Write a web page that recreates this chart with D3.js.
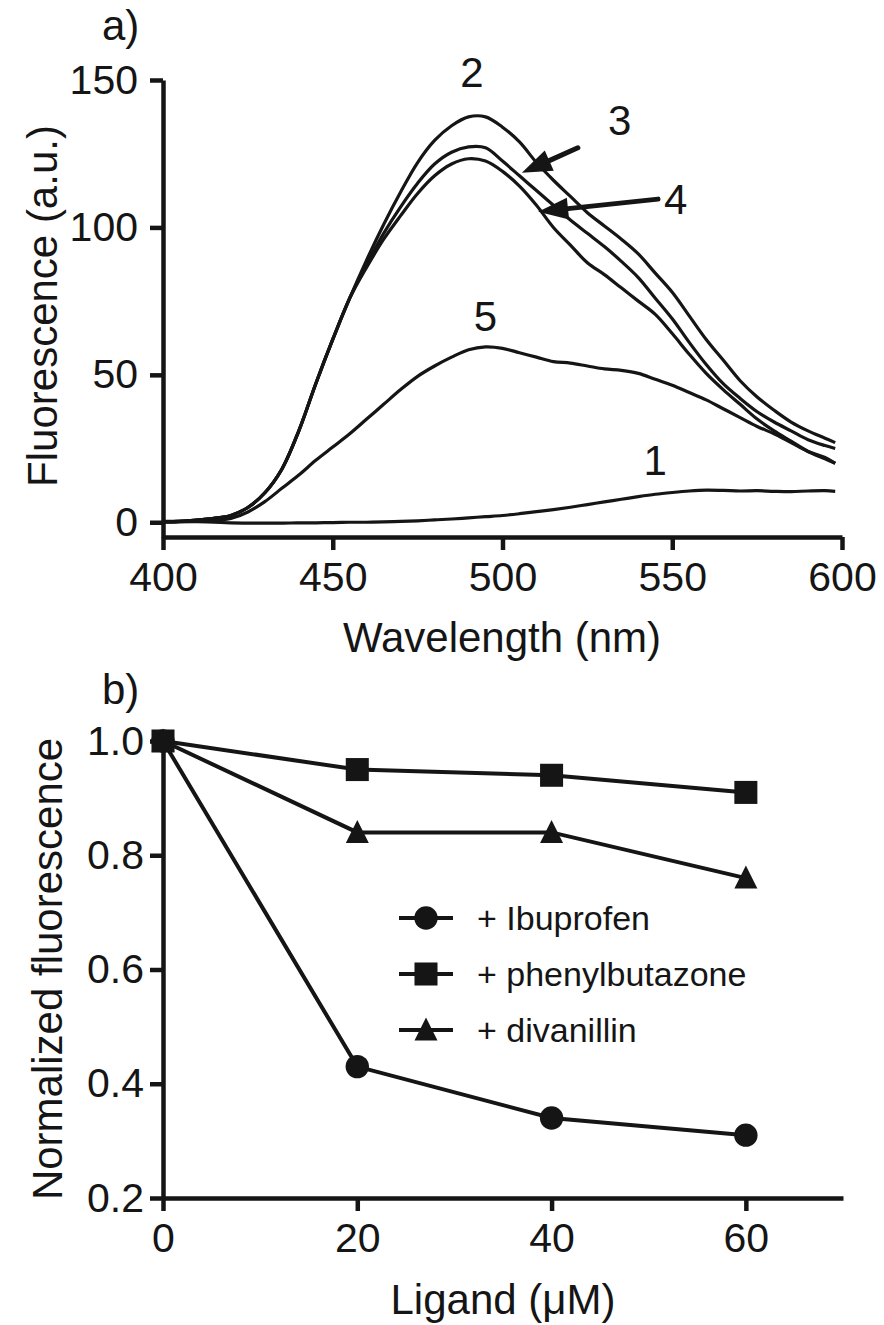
<!DOCTYPE html>
<html>
<head>
<meta charset="utf-8">
<script src="https://cdn.jsdelivr.net/npm/d3@7"></script>
<style>
  body { margin: 0; background: #fff; }
  svg { display: block; font-family: "Liberation Sans", Arial, sans-serif; }
  .axis path, .axis line { stroke: #151515; stroke-width: 4.5; }
  .axis text { font-size: 41px; fill: #151515; }
  .title { font-size: 42px; fill: #151515; }
</style>
</head>
<body>
<div id="chart-area"></div>
<script>
// Panel a) - emission spectra
const wavelengths = [400, 405, 410, 415, 420, 425, 430, 435, 440, 445, 450, 455, 460,
  465, 470, 475, 480, 485, 490, 495, 500, 505, 510, 515, 520, 525,
  530, 535, 540, 545, 550, 555, 560, 565, 570, 575, 580, 585, 590, 595, 598];
const spectrum1 = [0.3, 0.3, 0.2, 0, -0.2, -0.3, -0.3, -0.3, -0.2, -0.2, -0.1, 0, 0,
  0.1, 0.3, 0.5, 0.8, 1.1, 1.5, 1.9, 2.3, 2.9, 3.6, 4.3, 5.1, 6.0,
  6.9, 7.8, 8.7, 9.5, 10.1, 10.6, 10.9, 10.8, 10.6, 10.7, 10.5, 10.4, 10.6, 10.7, 10.5];
const spectrum2 = [0.2, 0.3, 0.7, 1.3, 2.3, 5, 10, 18, 31, 47, 62, 76, 89,
  101, 112, 122, 129.5, 134.5, 137.5, 137.5, 134, 129, 122, 116, 110.5, 105,
  100.5, 96, 91, 84.5, 78, 70, 62, 55, 48, 42.5, 38, 34, 31, 28.5, 27];
const spectrum3 = [0.2, 0.3, 0.7, 1.3, 2.3, 5, 10, 18, 31, 47, 62, 76, 87.5,
  98, 107, 115, 121.5, 125.5, 127.3, 127, 122.5, 117.5, 112.5, 107.5, 102.5, 98,
  93.5, 88.5, 83, 76, 69, 61, 53.5, 47, 42, 37.5, 34, 31, 28, 26, 25];
const spectrum4 = [0.2, 0.3, 0.7, 1.3, 2.3, 5, 10, 18, 31, 47, 62, 76, 86.5,
  96, 104, 111.5, 117.5, 121.5, 123.3, 122.5, 119, 114, 107.5, 100, 94, 88,
  84, 79.5, 75, 70.5, 64, 57, 50.5, 45, 40, 35, 31, 27.5, 24, 21.5, 20];
const spectrum5 = [0, 0.1, 0.3, 0.6, 1.3, 3.5, 7, 11.5, 16, 21, 25.5, 30, 35,
  40, 45, 49.5, 53, 56, 58.5, 59.5, 59, 57.5, 56, 54.5, 54, 53,
  52, 51.5, 50.5, 48.5, 46.5, 44, 41.5, 38.5, 35.5, 32.5, 30, 27, 24, 22, 20];
const spectra = [spectrum1, spectrum2, spectrum3, spectrum4, spectrum5];

const xTicksA = [400, 450, 500, 550, 600];
const yTicksA = [0, 50, 100, 150];

// curve labels [text, wavelength, value at baseline]
const curveLabels = [
  ['1', 545, 16],
  ['2', 491, 147.5],
  ['3', 534.5, 131.5],
  ['4', 551, 104.5],
  ['5', 495, 65],
];
// arrows [from wl, from value, to wl, to value]
const arrows = [
  [522.2, 127, 505.7, 118.5],
  [545.8, 109.6, 510.5, 105.3],
];

// Panel b) - quenching by ligands
const ligandConc = [0, 20, 40, 60];
const ibuprofen = [1.0, 0.43, 0.34, 0.31];
const phenylbutazone = [1.0, 0.95, 0.94, 0.91];
const divanillin = [1.0, 0.84, 0.84, 0.76];
const legendLabels = ['+ Ibuprofen', '+ phenylbutazone', '+ divanillin'];

const xTicksB = [0, 20, 40, 60];
const yTicksB = [0.2, 0.4, 0.6, 0.8, 1.0];

const width = 884;
const height = 1325;

const svg = d3.select('#chart-area')
  .append('svg')
  .attr('width', width)
  .attr('height', height);

// ---------- panel a ----------
const xA = d3.scaleLinear().domain([400, 600]).range([163, 842]);
const yA = d3.scaleLinear().domain([-5, 150]).range([537, 80]);

svg.append('g')
  .attr('class', 'axis')
  .attr('transform', 'translate(0, 537)')
  .call(d3.axisBottom(xA).tickValues(xTicksA).tickSize(13).tickSizeOuter(0).tickPadding(12));

svg.append('g')
  .attr('class', 'axis')
  .attr('transform', 'translate(163, 0)')
  .call(d3.axisLeft(yA).tickValues(yTicksA).tickSize(13).tickSizeOuter(0).tickPadding(12));

const spectrumLine = d3.line()
  .x((d, i) => xA(wavelengths[i]))
  .y((d) => yA(d))
  .curve(d3.curveCatmullRom);

svg.append('g')
  .selectAll('path')
  .data(spectra)
  .enter()
  .append('path')
  .attr('d', spectrumLine)
  .attr('fill', 'none')
  .attr('stroke', '#151515')
  .attr('stroke-width', 3.2)
  .attr('stroke-linejoin', 'round');

svg.append('g')
  .selectAll('text')
  .data(curveLabels)
  .enter()
  .append('text')
  .attr('class', 'title')
  .attr('font-size', 40)
  .attr('text-anchor', 'middle')
  .attr('x', (d) => xA(d[1]))
  .attr('y', (d) => yA(d[2]))
  .text((d) => d[0]);

// arrows
arrows.forEach(([w0, v0, w1, v1]) => {
  const x0 = xA(w0), y0 = yA(v0), x1 = xA(w1), y1 = yA(v1);
  const ang = Math.atan2(y1 - y0, x1 - x0);
  const headLen = 30, headHalf = 11;
  const bx = x1 - headLen * Math.cos(ang);
  const by = y1 - headLen * Math.sin(ang);
  svg.append('line')
    .attr('x1', x0).attr('y1', y0)
    .attr('x2', bx).attr('y2', by)
    .attr('stroke', '#151515')
    .attr('stroke-width', 5)
    .attr('stroke-linecap', 'round');
  svg.append('path')
    .attr('d', `M${x1},${y1}L${bx - headHalf * Math.sin(ang)},${by + headHalf * Math.cos(ang)}` +
      `L${bx + headHalf * Math.sin(ang)},${by - headHalf * Math.cos(ang)}Z`)
    .attr('fill', '#151515');
});

svg.append('text')
  .attr('class', 'title')
  .attr('x', 102)
  .attr('y', 40)
  .text('a)');

svg.append('text')
  .attr('class', 'title')
  .attr('text-anchor', 'middle')
  .attr('x', 502)
  .attr('y', 652)
  .text('Wavelength (nm)');

svg.append('text')
  .attr('class', 'title')
  .attr('text-anchor', 'middle')
  .attr('transform', 'translate(57, 306) rotate(-90)')
  .text('Fluorescence (a.u.)');

// ---------- panel b ----------
const xB = d3.scaleLinear().domain([0, 70]).range([163, 843]);
const yB = d3.scaleLinear().domain([0.2, 1.0]).range([1198, 741]);

svg.append('g')
  .attr('class', 'axis')
  .attr('transform', 'translate(0, 1198)')
  .call(d3.axisBottom(xB).tickValues(xTicksB).tickSize(13).tickSizeOuter(0).tickPadding(12));

svg.append('g')
  .attr('class', 'axis')
  .attr('transform', 'translate(163, 0)')
  .call(d3.axisLeft(yB).tickValues(yTicksB).tickFormat(d3.format('.1f'))
    .tickSize(13).tickSizeOuter(0).tickPadding(6));

const triangle = 'M0,-12.5L11.5,10.5L-11.5,10.5Z';
const series = [
  { values: ibuprofen, symbol: d3.symbol(d3.symbolCircle, 430)() },
  { values: phenylbutazone, symbol: d3.symbol(d3.symbolSquare, 530)() },
  { values: divanillin, symbol: triangle },
];

const pointLine = d3.line()
  .x((d, i) => xB(ligandConc[i]))
  .y((d) => yB(d));

const gSeries = svg.append('g')
  .selectAll('g')
  .data(series)
  .enter()
  .append('g');

gSeries.append('path')
  .attr('d', (d) => pointLine(d.values))
  .attr('fill', 'none')
  .attr('stroke', '#151515')
  .attr('stroke-width', 4);

gSeries.each(function (s) {
  d3.select(this).selectAll('.marker')
    .data(s.values)
    .enter()
    .append('path')
    .attr('class', 'marker')
    .attr('d', s.symbol)
    .attr('fill', '#151515')
    .attr('transform', (d, i) => `translate(${xB(ligandConc[i])}, ${yB(d)})`);
});

// legend
const legend = svg.append('g');
const legendRows = legend.selectAll('g')
  .data(series)
  .enter()
  .append('g')
  .attr('transform', (d, i) => `translate(0, ${918 + i * 56})`);

legendRows.append('line')
  .attr('x1', 399).attr('x2', 453)
  .attr('stroke', '#151515')
  .attr('stroke-width', 4);
legendRows.append('path')
  .attr('d', (d) => d.symbol)
  .attr('fill', '#151515')
  .attr('transform', 'translate(426, 0)');
legendRows.append('text')
  .attr('x', 477)
  .attr('y', 12)
  .attr('font-size', 34)
  .attr('fill', '#151515')
  .text((d, i) => legendLabels[i]);

svg.append('text')
  .attr('class', 'title')
  .attr('x', 102)
  .attr('y', 704)
  .text('b)');

svg.append('text')
  .attr('class', 'title')
  .attr('text-anchor', 'middle')
  .attr('x', 503)
  .attr('y', 1314)
  .text('Ligand (\u03BCM)');

svg.append('text')
  .attr('class', 'title')
  .attr('text-anchor', 'middle')
  .attr('transform', 'translate(62, 969) rotate(-90)')
  .text('Normalized fluorescence');
</script>
</body>
</html>
